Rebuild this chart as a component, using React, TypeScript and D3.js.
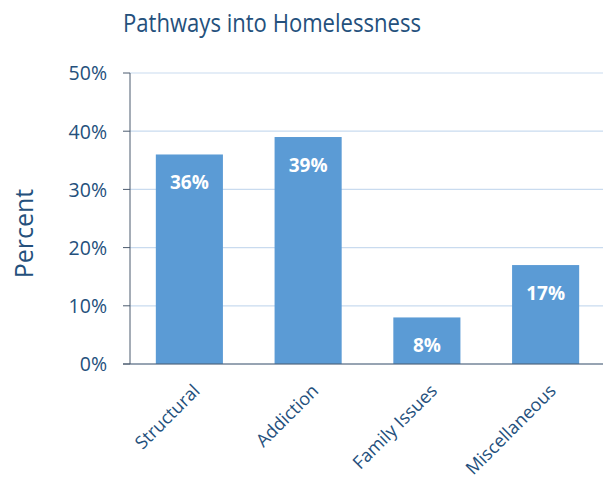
import React from "react";
import * as d3 from "d3";

const categories: string[] = ["Structural", "Addiction", "Family Issues", "Miscellaneous"];
const percents: number[] = [36, 39, 8, 17];
const yTicks: number[] = [0, 10, 20, 30, 40, 50];

const W = 603;
const H = 479;
const FONT = "'Open Sans', sans-serif";
const TEXT = "#24507c";

const App: React.FC = () => {
  const x = d3
    .scaleBand<string>()
    .domain(categories)
    .range([130, 605])
    .paddingInner(0.435)
    .paddingOuter(0.2175);

  const y = d3.scaleLinear().domain([0, 50]).range([364, 73]);

  return (
    <svg
      width={W}
      height={H}
      style={{ position: "absolute", left: 0, top: 0 }}
      fontFamily={FONT}
    >
      <rect width={W} height={H} fill="#fff" />
      <text
        x={272}
        y={32}
        textAnchor="middle"
        fontSize={25}
        textLength={298}
        lengthAdjust="spacingAndGlyphs"
        fill="#24507c"
      >
        Pathways into Homelessness
      </text>

      {/* gridlines */}
      {yTicks.map((t) => (
        <line
          key={"g" + t}
          x1={130}
          x2={W}
          y1={y(t)}
          y2={y(t)}
          stroke="#c9dbef"
          strokeWidth={1.2}
        />
      ))}

      {/* bars */}
      {categories.map((c, i) => (
        <g key={c}>
          <rect
            x={x(c)}
            y={y(percents[i])}
            width={x.bandwidth()}
            height={y(0) - y(percents[i])}
            fill="#5b9bd5"
          />
          <text
            x={(x(c) || 0) + x.bandwidth() / 2}
            y={y(percents[i]) + 35}
            textAnchor="middle"
            fontSize={19}
            fontWeight="bold"
            fill="#fff"
          >
            {percents[i]}%
          </text>
        </g>
      ))}

      {/* y axis */}
      <line x1={130} x2={130} y1={y(50)} y2={y(0)} stroke="#4a5a6e" strokeWidth={1} />
      <line x1={123} x2={W} y1={y(0)} y2={y(0)} stroke="#4a5a6e" strokeWidth={1} />
      {yTicks.map((t) => (
        <g key={"t" + t}>
          <line x1={123} x2={130} y1={y(t)} y2={y(t)} stroke="#4a5a6e" strokeWidth={1} />
          <text
            x={107}
            y={y(t)}
            dy="0.38em"
            textAnchor="end"
            fontSize={19.5}
            fill={TEXT}
          >
            {t}%
          </text>
        </g>
      ))}

      <text
        transform="translate(33,233.5) rotate(-90)"
        textAnchor="middle"
        fontSize={25}
        fill={TEXT}
      >
        Percent
      </text>

      {/* category labels */}
      {categories.map((c) => {
        const cx = (x(c) || 0) + x.bandwidth() / 2;
        return (
          <text
            key={"l" + c}
            transform={`translate(${cx + 2.6},${383}) rotate(-45)`}
            textAnchor="end"
            dy="0.7em"
            fontSize={18}
            fill={TEXT}
          >
            {c}
          </text>
        );
      })}
    </svg>
  );
};

export default App;
